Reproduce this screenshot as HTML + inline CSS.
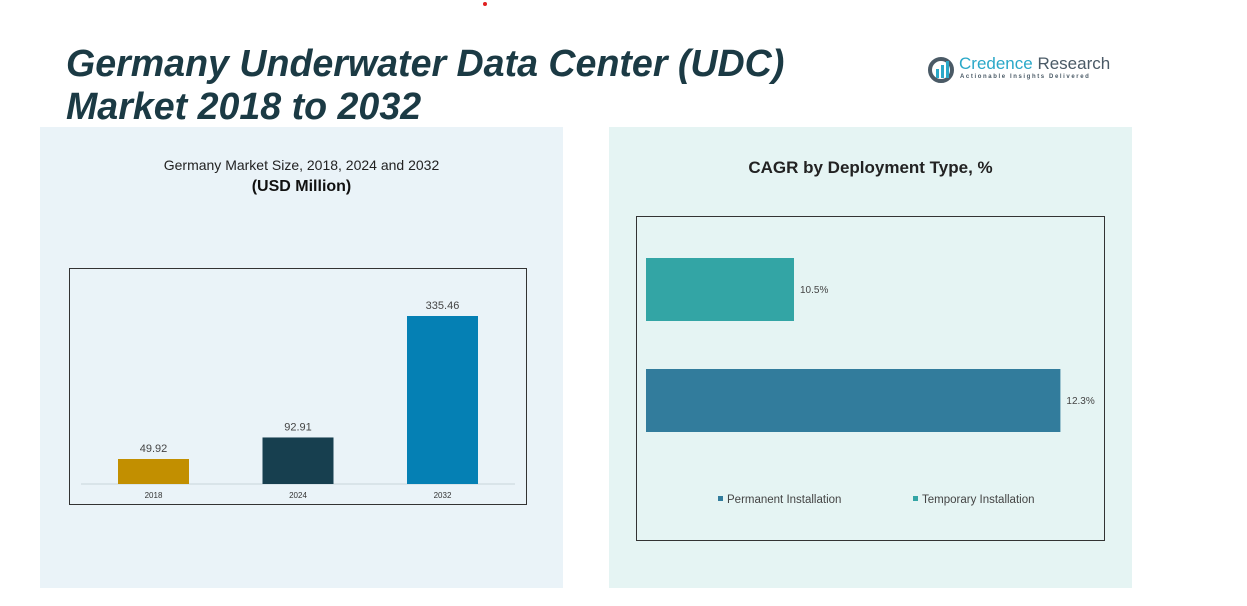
<!DOCTYPE html>
<html><head><meta charset="utf-8"><style>
body{margin:0;width:1247px;height:606px;background:#fff;font-family:"Liberation Sans",sans-serif;position:relative;overflow:hidden}
.abs{position:absolute}
</style></head><body>
<div class="abs" style="left:40px;top:127px;width:523px;height:461px;background:#eaf3f8"></div>
<div class="abs" style="left:609px;top:127px;width:523px;height:461px;background:#e5f4f3"></div>
<div class="abs" style="left:483px;top:2px;width:4px;height:4px;border-radius:2px;background:#e02020"></div>
<div class="abs" style="left:66px;top:42px;font-size:37.6px;line-height:43px;font-weight:bold;font-style:italic;color:#1b3a44">Germany Underwater Data Center (UDC)<br>Market 2018 to 2032</div>
<div class="abs" style="left:928px;top:54px;width:180px;height:30px">
<svg width="28" height="28" style="position:absolute;left:0;top:2px"><circle cx="13" cy="14" r="11" fill="none" stroke="#4a5a66" stroke-width="4"/><rect x="8" y="13" width="3" height="9" fill="#2aa8c8"/><rect x="13" y="9" width="3" height="13" fill="#2aa8c8"/><rect x="18" y="5" width="3" height="17" fill="#2aa8c8"/></svg>
<div style="position:absolute;left:31px;top:0;font-size:17px;color:#2aa8c8;white-space:nowrap">Credence <span style="color:#4a5a66">Research</span></div>
<div style="position:absolute;left:32px;top:20px;font-size:6px;letter-spacing:1.6px;color:#4a5a66;white-space:nowrap;font-weight:bold">Actionable Insights Delivered</div>
</div>
<div class="abs" style="left:40px;top:157px;width:523px;text-align:center;font-size:14px;color:#222">Germany Market Size, 2018, 2024 and 2032</div>
<div class="abs" style="left:40px;top:178px;width:523px;text-align:center;font-size:16px;font-weight:bold;color:#111">(USD Million)</div>
<div class="abs" style="left:609px;top:158px;width:523px;text-align:center;font-size:17px;font-weight:bold;color:#222">CAGR by Deployment Type, %</div>
<svg id="c1" class="abs" style="left:0;top:0" width="1247" height="606"></svg>
<script>
const years=["2018","2024","2032"];
const sizes=[49.92,92.91,335.46];
const sizeLabels=["49.92","92.91","335.46"];
const sizeColors=["#c28f00","#173f4f","#0580b4"];
const segs=["Temporary Installation","Permanent Installation"];
const cagr=[10.5,12.3];
const cagrLabels=["10.5%","12.3%"];
const cagrColors=["#33a5a5","#327c9c"];
const NS="http://www.w3.org/2000/svg";
const s=document.getElementById('c1');
function mk(t,a){const e=document.createElementNS(NS,t);for(const k in a)e.setAttribute(k,a[k]);s.appendChild(e);return e;}
let f=mk('rect',{x:69.5,y:268.5,width:457,height:236,fill:'none',stroke:'#333','stroke-width':1});


let ax=mk('line',{x1:81,x2:515,y1:484,y2:484,stroke:'#c8d4da'});


const y=v=>484-v*0.5008;
const xc=i=>153.5+i*144.5;
years.forEach((yr,i)=>{
 const r=mk('rect',{x:xc(i)-35.5,y:y(sizes[i]),width:71,height:484-y(sizes[i]),fill:sizeColors[i]});
 
 
 const t=mk('text',{x:xc(i),y:y(sizes[i])-7,'text-anchor':'middle','font-size':11,fill:'#444'});t.textContent=sizeLabels[i];
 
 
 const l=mk('text',{x:xc(i),y:498,'text-anchor':'middle','font-size':8,fill:'#333'});l.textContent=yr;
 
 
});
let f2=mk('rect',{x:636.5,y:216.5,width:468,height:324,fill:'none',stroke:'#333'});


const xs=v=>646+(v-9.5)*148;
const yb=[258,369];
segs.forEach((sg,i)=>{
 const r=mk('rect',{x:646,y:yb[i],width:xs(cagr[i])-646,height:63,fill:cagrColors[i]});
 
 
 const t=mk('text',{x:xs(cagr[i])+6,y:yb[i]+35,'font-size':10,fill:'#444'});t.textContent=cagrLabels[i];
 
 
});
const leg=[["Permanent Installation",cagrColors[1],718],["Temporary Installation",cagrColors[0],913]];
leg.forEach(([n,c,x])=>{
 const r=mk('rect',{x:x,y:496,width:5,height:5,fill:c});
 
 
 const t=mk('text',{x:x+9,y:503,'font-size':11.5,fill:'#444'});t.textContent=n;
 
 
});
</script>
</body></html>
